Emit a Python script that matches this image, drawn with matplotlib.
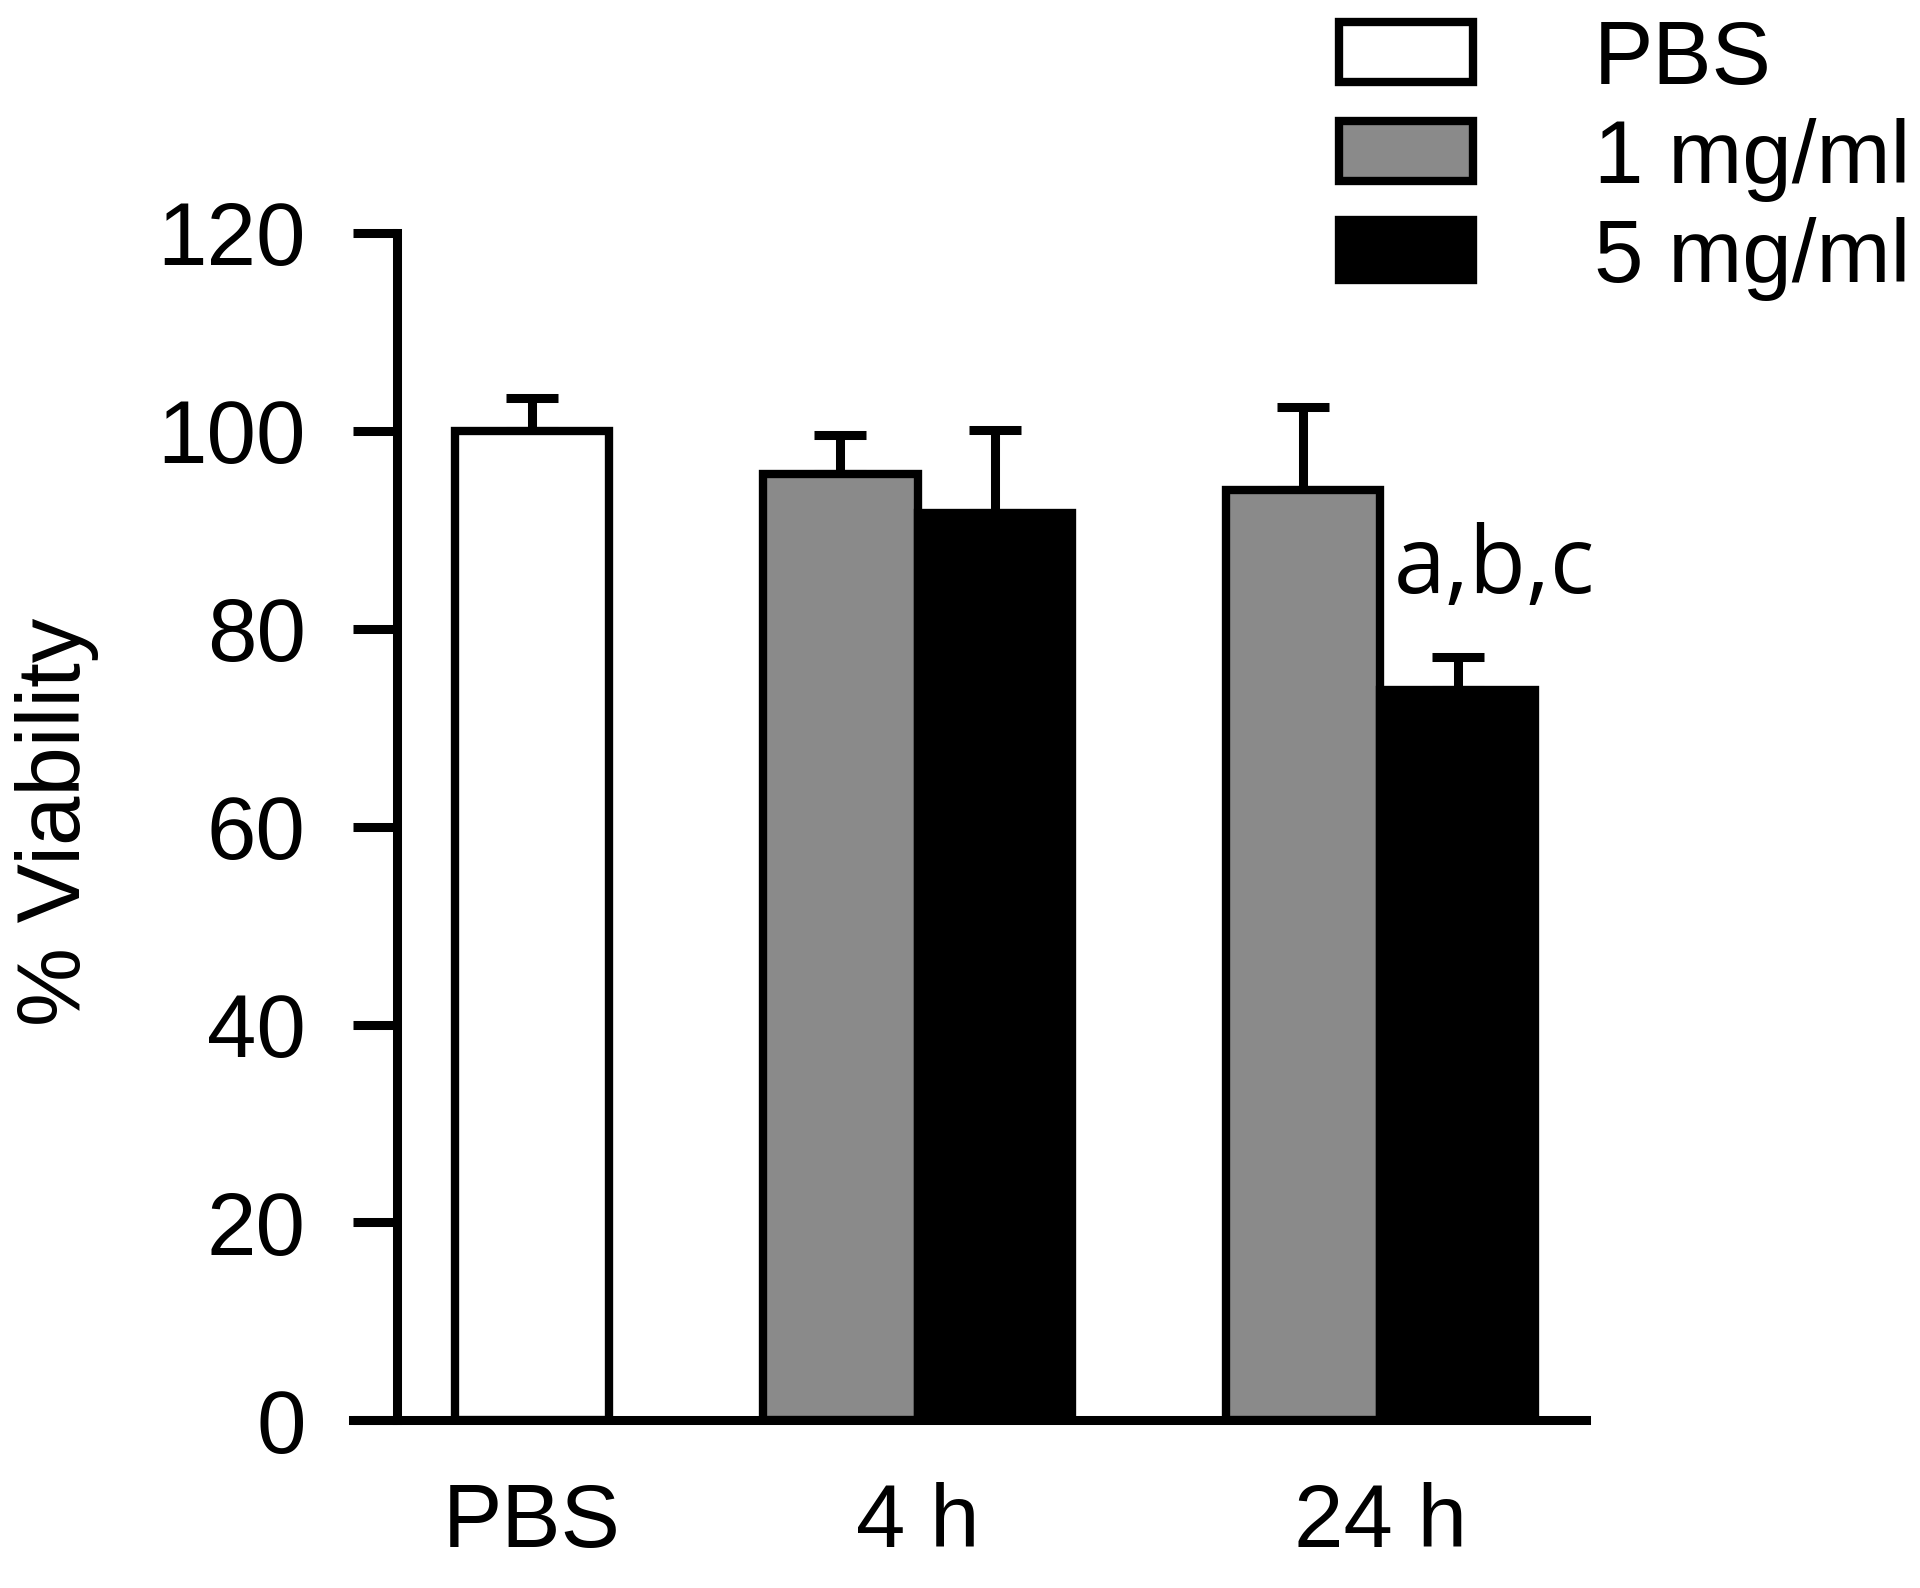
import numpy as np
import matplotlib.pyplot as plt
from matplotlib.patches import Rectangle

# data
groups = ["PBS", "4 h", "24 h"]
series = ["PBS", "1 mg/ml", "5 mg/ml"]
bar_series = ["PBS", "1 mg/ml", "5 mg/ml", "1 mg/ml", "5 mg/ml"]
bar_group = ["PBS", "4 h", "4 h", "24 h", "24 h"]
viability = [100.0, 95.6, 91.7, 94.0, 73.8]
sem = [3.3, 4.0, 8.4, 8.4, 3.3]
annotation = "a,b,c"

colors = {"PBS": "white", "1 mg/ml": "#8a8a8a", "5 mg/ml": "black"}

plt.rcParams['font.family'] = ['Liberation Sans', 'DejaVu Sans']
FS = 64

W, H = 1920, 1588
fig = plt.figure(figsize=(W / 100, H / 100), dpi=100)
ax = fig.add_axes([0.1837, 0.1055, 0.6422, 0.748])

# bar positions: one slot per bar, one empty slot between groups
pos = []
x = 0
for i, g in enumerate(bar_group):
    if i == 0:
        x = 1
    elif g != bar_group[i - 1]:
        x += 2
    else:
        x += 1
    pos.append(x)
pos = np.array(pos, dtype=float)
vals = np.array(viability)
errs = np.array(sem)

lw = 6
for s in series:
    idx = [i for i, b in enumerate(bar_series) if b == s]
    ax.bar(pos[idx], vals[idx], width=1.0, color=colors[s], edgecolor="black",
           linewidth=lw, zorder=3, label=s)

# upper error bars only
ax.errorbar(pos, vals, yerr=[np.zeros_like(errs), errs], fmt="none", ecolor="black",
            elinewidth=6.5, capsize=19, capthick=6.5, zorder=2)

# significance letters next to the 24 h / 5 mg/ml bar
ax.text(7.24, 83.6, annotation, ha="center", va="baseline", fontsize=67,
        family=["Open Sans", "DejaVu Sans"])

ax.set_xlim(-0.16, 7.83)
ax.set_ylim(0, 120)
ax.spines["left"].set_position(("data", 0.13))
ax.spines["top"].set_visible(False)
ax.spines["right"].set_visible(False)
ax.spines["left"].set_linewidth(6.5)
ax.spines["bottom"].set_linewidth(6.5)

ax.set_yticks(np.arange(0, 121, 20))
ax.tick_params(axis="y", direction="out", length=32, width=6.5, pad=34, labelsize=FS)

centers = [np.mean([p for p, bg in zip(pos, bar_group) if bg == g]) for g in groups]
ax.set_xticks(centers)
ax.set_xticklabels(groups)
ax.tick_params(axis="x", length=0, pad=44, labelsize=FS)

fig.text(57 / W, 1 - 822 / H, "% Viability", rotation=90, ha="center", va="center",
         fontsize=FS)

# legend drawn by hand: boxes and labels at top right
box_left, box_w, box_h, row_top, row_step = 1339, 134, 60, 22, 99
for k, s in enumerate(series):
    top = row_top + k * row_step
    fig.add_artist(Rectangle((box_left / W, 1 - (top + box_h) / H), box_w / W, box_h / H,
                             transform=fig.transFigure, facecolor=colors[s],
                             edgecolor="black", linewidth=lw))
    fig.text(1594 / W, 1 - (top + box_h / 2 + 32) / H, s, ha="left", va="baseline",
             fontsize=FS)

fig.savefig("out.png", dpi=100, facecolor="white")
